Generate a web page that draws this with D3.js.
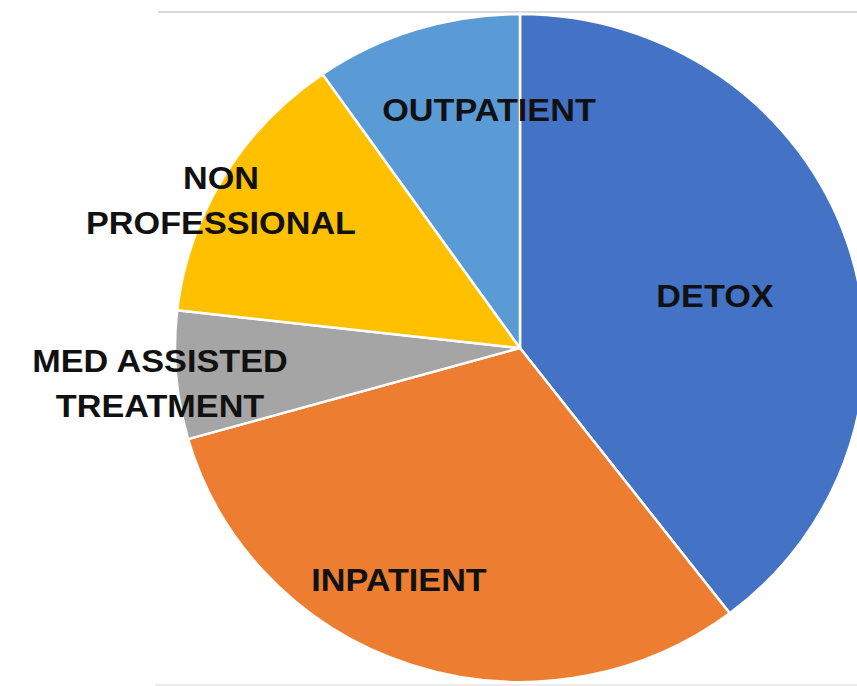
<!DOCTYPE html>
<html>
<head>
<meta charset="utf-8">
<script src="https://cdn.jsdelivr.net/npm/d3@7"></script>
<style>
  body { margin: 0; background: #fff; }
  svg { display: block; }
</style>
</head>
<body>
<svg id="chart" width="857" height="686"></svg>
<script>
// slices, clockwise from 12 o'clock (percent)
var categories = ["DETOX", "INPATIENT", "MED ASSISTED TREATMENT", "NON PROFESSIONAL", "OUTPATIENT"];
var shares = [39.6, 31.0, 6.2, 13.5, 9.7];
var labelLines = [["DETOX"], ["INPATIENT"], ["MED ASSISTED", "TREATMENT"], ["NON", "PROFESSIONAL"], ["OUTPATIENT"]];

var colors = ["#4472C4", "#ED7D31", "#A5A5A5", "#FFC000", "#5B9BD5"];
// label centre, px from pie centre
var labelOffset = [[195, -53], [-121, 231], [-360, 35], [-299, -148], [-31, -239]];

var W = 857, H = 686;
var cx = 520, cy = 348;
var ry = 334, stretch = 345 / 334; // picture is slightly wider than tall

var svg = d3.select("#chart");

// thin frame lines top and bottom
svg.append("line")
    .attr("x1", 158).attr("x2", W)
    .attr("y1", 12).attr("y2", 12)
    .attr("stroke", "#d9d9d9")
    .attr("stroke-width", 2);
svg.append("line")
    .attr("x1", 155).attr("x2", W)
    .attr("y1", 685).attr("y2", 685)
    .attr("stroke", "#e6e6e6")
    .attr("stroke-width", 1.5);

var pie = d3.pie().sort(null).value(function(d) { return d; });
var arc = d3.arc().innerRadius(0).outerRadius(ry);

var g = svg.append("g")
    .attr("transform", "translate(" + cx + "," + cy + ") scale(" + stretch + ",1)");

g.selectAll("path.slice")
    .data(pie(shares))
    .enter().append("path")
    .attr("class", "slice")
    .attr("d", arc)
    .attr("fill", function(d, i) { return colors[i]; })
    .attr("stroke", "#fff")
    .attr("stroke-width", 2.5)
    .attr("stroke-linejoin", "round")
    .attr("vector-effect", "non-scaling-stroke");

var lineH = 45;
var labels = svg.append("g")
    .attr("transform", "translate(" + cx + "," + cy + ")");

// text in the picture is a bit wider than plain Arial bold
labelLines.forEach(function(lines, i) {
    var t = labels.append("text")
        .attr("transform", "translate(" + labelOffset[i][0] + "," + labelOffset[i][1] + ") scale(1.07,1)")
        .attr("text-anchor", "middle")
        .attr("font-family", "'Liberation Sans', Arial, sans-serif")
        .attr("font-weight", "bold")
        .attr("font-size", 32)
        .attr("fill", "#111");
    var y0 = -(lines.length - 1) * lineH / 2;
    lines.forEach(function(s, k) {
        t.append("tspan")
            .attr("x", 0)
            .attr("y", y0 + k * lineH)
            .attr("dy", "0.36em")
            .text(s);
    });
});
</script>
</body>
</html>
